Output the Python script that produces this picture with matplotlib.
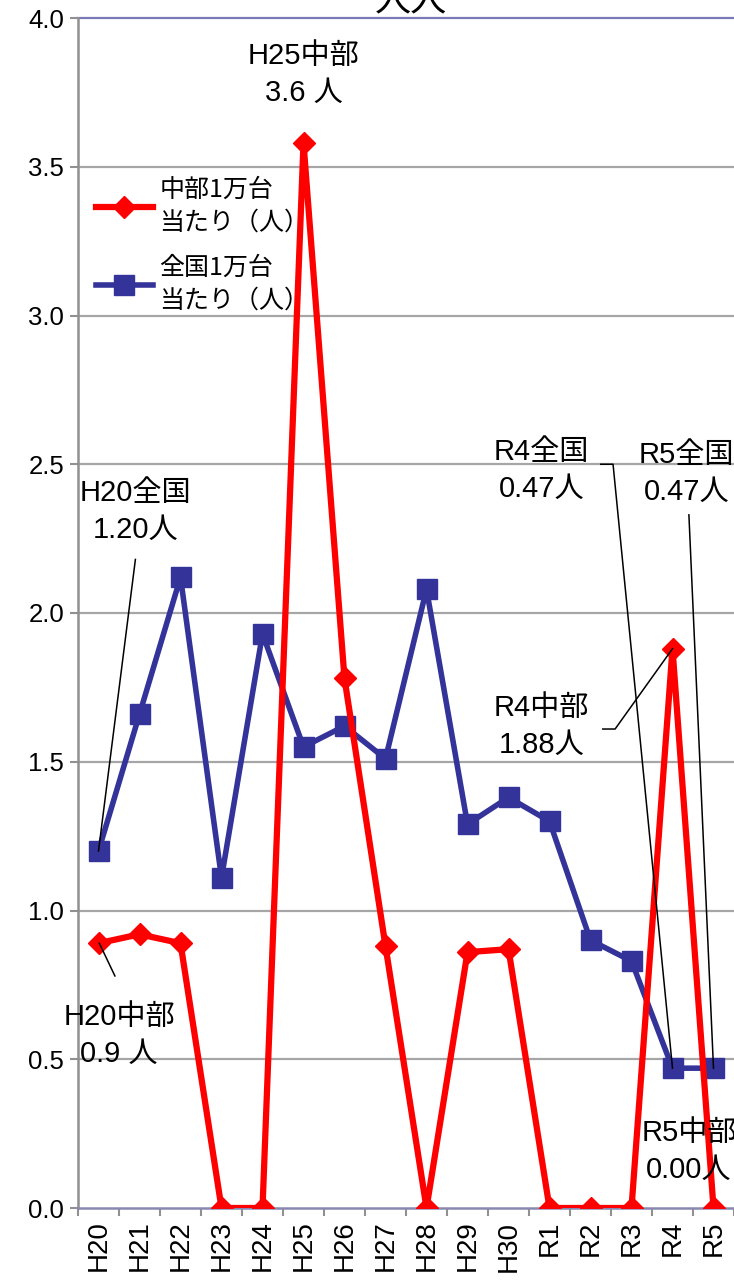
import matplotlib
matplotlib.use("Agg")
import matplotlib.pyplot as plt
import numpy as np

plt.rcParams['font.family'] = ['Liberation Sans', 'Noto Sans CJK JP', 'DejaVu Sans']

categories = ["H20", "H21", "H22", "H23", "H24", "H25", "H26", "H27", "H28",
              "H29", "H30", "R1", "R2", "R3", "R4", "R5"]
chubu = [0.89, 0.92, 0.89, 0.0, 0.0, 3.58, 1.78, 0.88, 0.0, 0.86, 0.87,
         0.0, 0.0, 0.0, 1.88, 0.0]
zenkoku = [1.20, 1.66, 2.12, 1.11, 1.93, 1.55, 1.62, 1.51, 2.08, 1.29, 1.38,
           1.30, 0.90, 0.83, 0.47, 0.47]
yticks = [0.0, 0.5, 1.0, 1.5, 2.0, 2.5, 3.0, 3.5, 4.0]

W, H = 734, 1280
fig = plt.figure(figsize=(W / 100, H / 100), dpi=100)
ax = fig.add_axes([78 / W, 1 - 1208 / H, (734 - 78) / W, (1208 - 18) / H])

x = np.arange(len(categories))
red = "#ff0000"
blue = "#333399"

ax.plot(x, zenkoku, color=blue, lw=4.0, marker="s", ms=14, zorder=3,
        label="全国1万台\n当たり（人）")
ax.plot(x, chubu, color=red, lw=4.5, marker="D", ms=11, zorder=4,
        label="中部1万台\n当たり（人）")

ax.set_xlim(-0.5, len(categories) - 0.5)
ax.set_ylim(0, 4.0)
ax.set_yticks(yticks)
ax.set_yticklabels([f"{v:.1f}" for v in yticks], fontsize=18.5)
ax.set_xticks(x)
ax.set_xticklabels(categories, rotation=90, fontsize=20)
ax.set_xticks(np.arange(-0.5, len(categories)), minor=True)
ax.tick_params(axis="x", which="major", length=0, pad=9)
ax.tick_params(axis="x", which="minor", length=6, width=1.5, color="#909090")
ax.tick_params(axis="y", length=6, width=1.5, color="#909090", pad=4)

for v in yticks[1:-1]:
    ax.axhline(v, color="#a6a6a6", lw=1.6, zorder=1)
for s in ["top", "right"]:
    ax.spines[s].set_visible(False)
ax.axhline(4.0, color="#7a7ab8", lw=1.6, zorder=1, clip_on=False)
ax.spines["left"].set_color("#909090")
ax.spines["left"].set_linewidth(1.8)
ax.spines["bottom"].set_color("#8888b0")
ax.spines["bottom"].set_linewidth(1.8)

handles, labels = ax.get_legend_handles_labels()
leg = ax.legend(handles[::-1], labels[::-1], loc="upper left",
                bbox_to_anchor=(0.0, 0.881), frameon=False,
                prop={"family": ["Noto Sans CJK JP"], "size": 18},
                handlelength=2.3, handletextpad=0.25, labelspacing=0.8,
                borderaxespad=0.3)
for t in leg.get_texts():
    t.set_linespacing(1.3)

fs = 21
def lbl(xv, yv, text):
    ax.text(xv, yv, text, fontsize=fs, ha="center", va="center",
            linespacing=1.4, zorder=6)

lbl(5.0, 3.81, "H25中部\n3.6 人")
lbl(0.9, 2.34, "H20全国\n1.20人")
lbl(10.8, 2.48, "R4全国\n0.47人")
lbl(14.35, 2.47, "R5全国\n0.47人")
lbl(10.8, 1.62, "R4中部\n1.88人")
lbl(0.5, 0.58, "H20中部\n0.9 人")
lbl(14.4, 0.19, "R5中部\n0.00人")

lk = dict(color="black", lw=1.1, zorder=5)
ax.plot([0.9, 0.0], [2.18, 1.20], **lk)
ax.plot([12.25, 12.55, 14.0], [2.5, 2.5, 0.47], **lk)
ax.plot([14.4, 15.0], [2.33, 0.47], **lk)
ax.plot([12.3, 12.6, 14.0], [1.61, 1.61, 1.88], **lk)
ax.plot([0.4, 0.02], [0.78, 0.89], **lk)

fig.text(0.56, 1 - 10 / H, "人人", fontsize=26, ha="center", va="baseline")

fig.savefig("out.png", dpi=100)
